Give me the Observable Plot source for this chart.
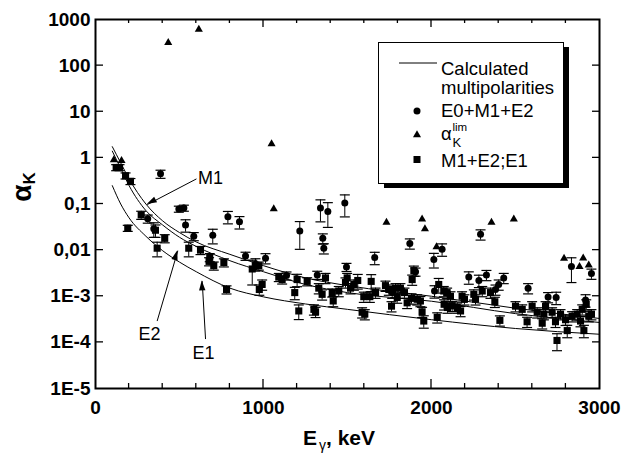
<!DOCTYPE html>
<html><head><meta charset="utf-8">
<script src="https://cdn.jsdelivr.net/npm/d3@7"></script>
<script src="https://cdn.jsdelivr.net/npm/@observablehq/plot@0.6"></script>
<style>
html,body{margin:0;padding:0;background:#fff;}
#chart{width:624px;height:455px;}
</style></head><body><div id="chart"></div>
<script>
// ---------- data ----------
// E0+M1+E2 (circles): energy keV, alpha_K, relative error
const circE = [311,347,387,496,526,536,585,698,788,857,893,952,1012,1137,1216,1320,1339,1353,1359,1383,1484,1494,1662,1766,1871,1905,2014,2018,2063,2222,2282,2292,2327,2381,2400,2430,2575,2694,2742,2833,2917,2952];
const circA = [0.048,0.029,0.45,0.078,0.082,0.035,0.020,0.021,0.053,0.041,0.0075,0.005,0.0067,0.0028,0.026,0.0029,0.082,0.018,0.011,0.069,0.105,0.0043,0.0069,0.0012,0.014,0.0034,0.0063,0.0013,0.0105,0.0026,0.0022,0.022,0.0029,0.0014,0.0018,0.0025,0.0015,0.00096,0.00094,0.0044,0.00083,0.0031];
const circErr = [0.2,0.35,0.2,0.15,0.15,0.3,0.2,0.35,0.3,0.3,0.2,0.3,0.25,0.2,0.6,0.2,0.5,0.25,0.25,0.55,0.5,0.2,0.3,0.25,0.25,0.2,0.35,0.3,0.3,0.3,0.3,0.25,0.25,0.25,0.25,0.25,0.25,0.25,0.3,0.55,0.3,0.25];

// M1+E2;E1 (squares)
const sqE = [123,143,179,192,208,272,357,367,412,555,625,676,680,704,764,780,933,972,975,992,1091,1111,1186,1200,1210,1260,1300,1310,1329,1349,1369,1409,1415,1448,1488,1498,1518,1538,1561,1587,1597,1603,1633,1641,1667,1726,1746,1762,1786,1796,1815,1839,1855,1881,1885,1895,1915,1934,1944,1954,2034,2043,2073,2075,2093,2095,2113,2123,2153,2173,2182,2196,2252,2262,2302,2351,2377,2407,2500,2540,2569,2599,2629,2659,2669,2679,2718,2738,2747,2768,2798,2808,2837,2867,2887,2897,2907,2921,2936,2952];
const sqA = [0.62,0.62,0.41,0.030,0.31,0.058,0.027,0.011,0.018,0.011,0.010,0.0057,0.0070,0.0046,0.0054,0.0014,0.0039,0.0046,0.0014,0.0018,0.0026,0.0023,0.0012,0.0023,0.00048,0.0021,0.00052,0.00046,0.0015,0.0011,0.0025,0.0012,0.00079,0.0013,0.0020,0.0025,0.0015,0.0018,0.0022,0.00045,0.00098,0.00041,0.00098,0.0021,0.0012,0.0017,0.0014,0.00061,0.0015,0.00094,0.0015,0.0012,0.00072,0.0009,0.0023,0.0036,0.00086,0.00079,0.00046,0.00029,0.00035,0.0018,0.0013,0.00067,0.0012,0.00057,0.001,0.00062,0.00057,0.00048,0.001,0.00086,0.0011,0.00086,0.0013,0.0012,0.00076,0.0003,0.00061,0.00052,0.00028,0.00061,0.00045,0.00026,0.00041,0.00061,0.00045,0.00028,0.00011,0.00041,0.00031,0.00018,0.00037,0.00041,0.00029,0.00052,0.00018,0.00067,0.00037,0.00041];
const sqErr = [0.15,0.15,0.15,0.15,0.15,0.2,0.3,0.35,0.2,0.35,0.2,0.2,0.2,0.2,0.2,0.2,0.55,0.2,0.25,0.25,0.2,0.2,0.3,0.3,0.35,0.2,0.25,0.25,0.25,0.25,0.25,0.2,0.25,0.25,0.25,0.25,0.25,0.25,0.35,0.25,0.25,0.25,0.25,0.4,0.25,0.25,0.25,0.25,0.25,0.25,0.25,0.25,0.25,0.25,0.25,0.25,0.25,0.25,0.25,0.3,0.25,0.35,0.25,0.25,0.25,0.25,0.25,0.25,0.25,0.25,0.25,0.25,0.25,0.25,0.25,0.25,0.25,0.25,0.25,0.25,0.25,0.25,0.25,0.25,0.25,0.25,0.25,0.25,0.4,0.25,0.25,0.3,0.25,0.25,0.25,0.25,0.3,0.25,0.25,0.25];

// alpha_K^lim (triangles)
const triE = [109,155,433,615,1048,1061,1732,1944,1961,2030,2357,2490,2789,2881,2903,2936];
const triA = [0.9,0.87,316,606,2.0,0.078,0.040,0.047,0.029,0.0118,0.040,0.047,0.0066,0.0044,0.0067,0.0047];

// calculated multipolarities
const curveE = [100,150,200,300,400,500,600,800,1000,1250,1500,2000,2500,3000];
const curveM1 = [1.75,0.78,0.35,0.10,0.043,0.024,0.015,0.0081,0.0046,0.0025,0.0017,0.001,0.00055,0.00033];
const curveE2 = [1.4,0.59,0.25,0.072,0.035,0.019,0.012,0.0059,0.0034,0.0018,0.0012,0.00078,0.00042,0.00027];
const curveE1 = [0.25,0.10,0.05,0.02,0.0097,0.0055,0.0034,0.0015,0.00097,0.00068,0.00052,0.00031,0.0002,0.00015];

// annotations
const annoText = ["M1","E2","E1"];
const annoX = [685,321,643];
const annoY = [0.37,0.00015,0.000059];
const arrowX1 = [601,367,655], arrowY1 = [0.35,0.00029,0.000118];
const arrowX2 = [308,490,635], arrowY2 = [0.097,0.0097,0.00215];

// ticks
const xTickValues = [0,1000,2000,3000];
const xTickLabels = ["0","1000","2000","3000"];
const xMinorTicks = [200,400,600,800,1000,1200,1400,1600,1800,2000,2200,2400,2600,2800];
const yTickValues = [1e-5,1e-4,1e-3,0.01,0.1,1,10,100,1000];
const yTickLabels = ["1E-5","1E-4","1E-3","0,01","0,1","1","10","100","1000"];

// ---------- build ----------
const FONT = '"Liberation Sans", Arial, Helvetica, sans-serif';
const circles = circE.map((E,i)=>({E, a:circA[i], r:circErr[i]}));
const squares = sqE.map((E,i)=>({E, a:sqA[i], r:sqErr[i]}));
const triangles = triE.map((E,i)=>({E, a:triA[i]}));
const errs = [...circles, ...squares].map(d=>({E:d.E, lo:d.a*(1-d.r), hi:d.a*(1+d.r)}));
const curves = [
  ...curveE.map((E,i)=>({E, a:curveM1[i], k:"M1"})),
  ...curveE.map((E,i)=>({E, a:curveE2[i], k:"E2"})),
  ...curveE.map((E,i)=>({E, a:curveE1[i], k:"E1"}))
];
const annos = annoText.map((t,i)=>({t, x:annoX[i], y:annoY[i]}));
const arrows = annoText.map((t,i)=>({x1:arrowX1[i], y1:arrowY1[i], x2:arrowX2[i], y2:arrowY2[i]}));
const xLab = new Map(xTickValues.map((v,i)=>[v,xTickLabels[i]]));
const yLab = new Map(yTickValues.map((v,i)=>[v,yTickLabels[i]]));
const cap = {draw(ctx){ ctx.moveTo(-5,0); ctx.lineTo(5,0); }};

const chart = Plot.plot({
  width:624, height:455,
  marginLeft:95, marginRight:25, marginTop:19, marginBottom:67,
  style:{fontFamily:FONT, background:"white", color:"black"},
  x:{domain:[0,3000]},
  y:{type:"log", domain:[1e-5,1000]},
  marks:[
    Plot.axisX(xTickValues, {tickSize:0, tickPadding:12, tickFormat:d=>xLab.get(d), fontSize:19, fontWeight:"bold", label:null}),
    Plot.axisY(yTickValues, {tickSize:0, tickPadding:5, tickFormat:d=>yLab.get(d), fontSize:19, fontWeight:"bold", label:null}),
    Plot.line(curves, {x:"E", y:"a", z:"k", stroke:"black", strokeWidth:1, curve:"monotone-x"}),
    Plot.ruleX(errs, {x:"E", y1:"lo", y2:"hi", stroke:"black", strokeWidth:1}),
    Plot.dot(errs, {x:"E", y:"lo", symbol:cap, stroke:"black", fill:"none", strokeWidth:1.2}),
    Plot.dot(errs, {x:"E", y:"hi", symbol:cap, stroke:"black", fill:"none", strokeWidth:1.2}),
    Plot.dot(circles, {x:"E", y:"a", r:3.5, fill:"black", stroke:"none"}),
    Plot.dot(squares, {x:"E", y:"a", r:4, symbol:"square", fill:"black", stroke:"none"}),
    Plot.dot(triangles, {x:"E", y:"a", r:3, symbol:"triangle", fill:"black", stroke:"none"}),
    Plot.link(arrows, {x1:"x1", y1:"y1", x2:"x2", y2:"y2", stroke:"black", strokeWidth:1}),
    Plot.text(annos, {x:"x", y:"y", text:"t", fontSize:18, fill:"black"}),
    Plot.frame({stroke:"black", strokeWidth:2})
  ]
});
document.getElementById("chart").appendChild(chart);

// ---------- inward ticks, arrowheads, titles and legend ----------
const sx = chart.scale("x"), sy = chart.scale("y");
const svg = d3.select(chart);
const gT = svg.append("g").attr("stroke","black").attr("stroke-width",1.3);
const yb = sy.apply(1e-5), yt = sy.apply(1000), xl = sx.apply(0), xr = sx.apply(3000);
for (const v of xMinorTicks) {
  const L = (v % 1000 === 0) ? 9 : 5;
  const x = sx.apply(v);
  gT.append("line").attr("x1",x).attr("x2",x).attr("y1",yb).attr("y2",yb-L);
  gT.append("line").attr("x1",x).attr("x2",x).attr("y1",yt).attr("y2",yt+L-1);
}
for (const v of yTickValues.slice(1,-1)) {
  const y = sy.apply(v);
  gT.append("line").attr("x1",xl).attr("x2",xl+8).attr("y1",y).attr("y2",y);
  gT.append("line").attr("x1",xr).attr("x2",xr-7).attr("y1",y).attr("y2",y);
}
// filled arrowheads at the tips
for (const a of arrows) {
  const px1 = sx.apply(a.x1), py1 = sy.apply(a.y1), px2 = sx.apply(a.x2), py2 = sy.apply(a.y2);
  const L = Math.hypot(px2-px1, py2-py1), ux = (px2-px1)/L, uy = (py2-py1)/L;
  const hl = 10, hw = 3.2;
  const bx = px2 - ux*hl, by = py2 - uy*hl;
  svg.append("path").attr("fill","black")
    .attr("d",`M${px2},${py2}L${bx - uy*hw},${by + ux*hw}L${bx + uy*hw},${by - ux*hw}Z`);
}

// x title
const xt = svg.append("text").attr("x",303).attr("y",445).attr("font-family",FONT).attr("text-anchor","start")
  .attr("font-size",21).attr("font-weight","bold").attr("fill","black");
xt.append("tspan").text("E");
xt.append("tspan").attr("font-size",14).attr("font-weight","normal").attr("dy",5).attr("dx",2).text("γ");
xt.append("tspan").attr("dy",-5).text(", keV");

// y title
const ytt = svg.append("text").attr("transform","translate(31,187) rotate(-90)").attr("text-anchor","middle")
  .attr("font-family",FONT).attr("font-weight","bold").attr("fill","black").attr("font-size",28);
ytt.append("tspan").text("α");
ytt.append("tspan").attr("font-size",17).attr("dy",4).text("K");

// legend
const lg = svg.append("g").attr("font-family",FONT).attr("font-size",18.5).attr("fill","black").attr("text-anchor","start");
lg.append("rect").attr("x",384).attr("y",47).attr("width",185).attr("height",141).attr("fill","black");
lg.append("rect").attr("x",378.5).attr("y",42.5).attr("width",185).attr("height",141).attr("fill","white").attr("stroke","black").attr("stroke-width",1);
lg.append("line").attr("x1",399).attr("x2",437).attr("y1",63).attr("y2",63).attr("stroke","black").attr("stroke-width",1);
lg.append("text").attr("x",441).attr("y",75).text("Calculated");
lg.append("text").attr("x",441).attr("y",94).text("multipolarities");
lg.append("circle").attr("cx",417).attr("cy",111).attr("r",3.5).attr("fill","black");
lg.append("text").attr("x",441).attr("y",116.5).text("E0+M1+E2");
lg.append("path").attr("transform","translate(417,135)").attr("d",d3.symbol(d3.symbolTriangle, Math.PI*9)()).attr("fill","black");
const la = lg.append("text").attr("x",441).attr("y",140);
la.append("tspan").text("α");
la.append("tspan").attr("x",452.5).attr("dy",-9).attr("font-size",11.5).text("lim");
la.append("tspan").attr("x",452.5).attr("dy",16).attr("font-size",13).text("K");
lg.append("rect").attr("x",413.5).attr("y",156).attr("width",7).attr("height",7).attr("fill","black");
lg.append("text").attr("x",441).attr("y",167).text("M1+E2;E1");
</script></body></html>
